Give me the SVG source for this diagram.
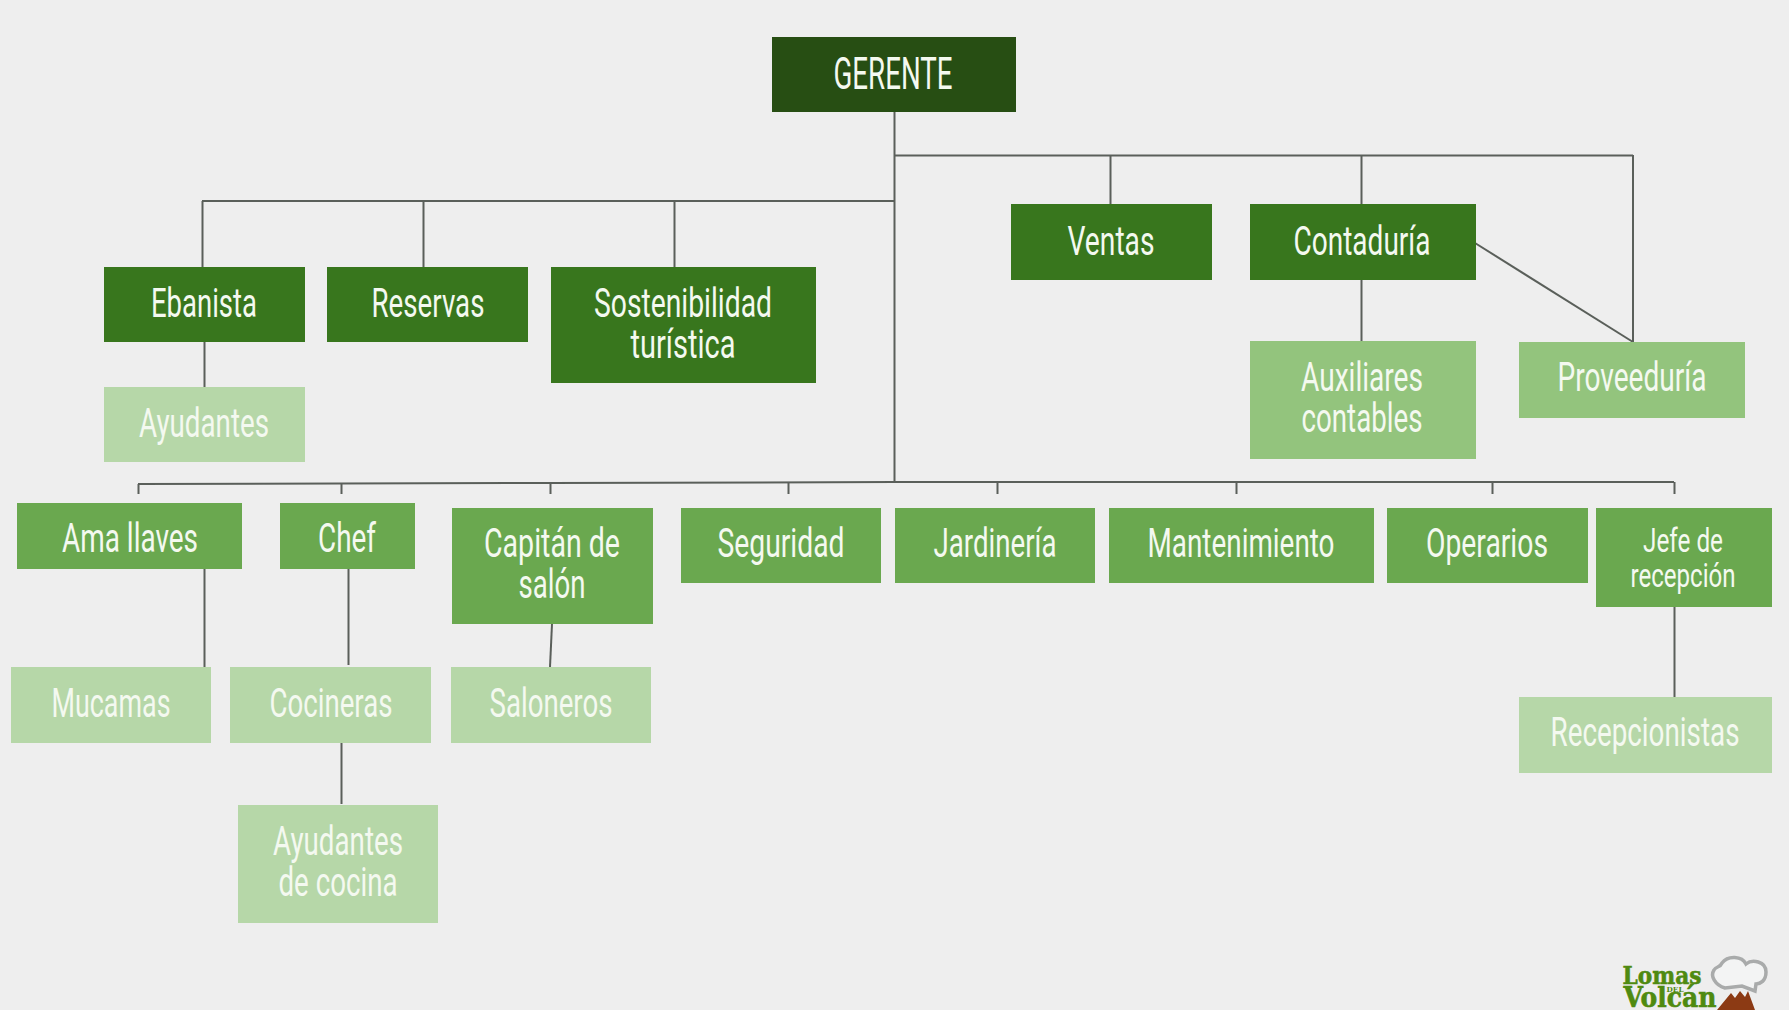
<svg xmlns="http://www.w3.org/2000/svg" width="1789" height="1010" viewBox="0 0 1789 1010">
<style>
.c{fill:none;stroke:#5a5f5a;stroke-width:2}
.a{fill:#274e13}.b{fill:#38761d}.d{fill:#6aa84f}.e{fill:#93c47d}.f{fill:#b6d7a8}
text{font-family:"Roboto","Liberation Sans",sans-serif;font-size:40px;fill:#f4f9f0;text-anchor:middle;font-weight:400}
.g{font-size:44px}
.s{font-size:33px}
.l{font-family:"DejaVu Serif","Liberation Serif",serif;font-weight:700;fill:#4f8a10;stroke:#4f8a10;stroke-width:.6;font-size:25px}
</style>
<rect width="1789" height="1010" fill="#eeeeee"/>
<g id="connectors" class="c">
<path d="M894.500 112V482"/>
<path d="M894 155.500H1633M1110.500 155V204M1361.500 155V204M1633 155V342"/>
<path d="M202 201H894M202.500 201V267M423.500 201V267M674.500 201V267"/>
<path d="M204.500 342V387"/>
<path d="M1361.500 280V341"/>
<path d="M1475 243L1633 342"/>
<path d="M138 484L550 483L894 482H1674"/>
<path d="M138.500 484V494M341.500 484V494M550.500 483V494M788.500 482V494M997.500 482V494M1236.500 482V494M1492.500 482V494M1674.500 482V494"/>
<path d="M204.500 569V667"/>
<path d="M348.500 569V665"/>
<path d="M552 624L550 667"/>
<path d="M341.500 743V804"/>
<path d="M1674.500 607V697"/>
</g>
<g id="gerente"><rect class="a" x="772" y="37" width="244" height="75"/><text class="g" x="893" y="89" textLength="119" lengthAdjust="spacingAndGlyphs">GERENTE</text></g>
<g id="ebanista"><rect class="b" x="104" y="267" width="201" height="75"/><text x="204" y="317" textLength="106" lengthAdjust="spacingAndGlyphs">Ebanista</text></g>
<g id="reservas"><rect class="b" x="327" y="267" width="201" height="75"/><text x="428" y="317" textLength="113" lengthAdjust="spacingAndGlyphs">Reservas</text></g>
<g id="sostenibilidad"><rect class="b" x="551" y="267" width="265" height="116"/><text x="683" y="317" textLength="178" lengthAdjust="spacingAndGlyphs">Sostenibilidad</text><text x="683" y="358" textLength="105" lengthAdjust="spacingAndGlyphs">turística</text></g>
<g id="ventas"><rect class="b" x="1011" y="204" width="201" height="76"/><text x="1111" y="255" textLength="87" lengthAdjust="spacingAndGlyphs">Ventas</text></g>
<g id="contaduria"><rect class="b" x="1250" y="204" width="226" height="76"/><text x="1362" y="255" textLength="137" lengthAdjust="spacingAndGlyphs">Contaduría</text></g>
<g id="ayudantes"><rect class="f" x="104" y="387" width="201" height="75"/><text x="204" y="437" textLength="130" lengthAdjust="spacingAndGlyphs">Ayudantes</text></g>
<g id="auxiliares"><rect class="e" x="1250" y="341" width="226" height="118"/><text x="1362" y="391" textLength="122" lengthAdjust="spacingAndGlyphs">Auxiliares</text><text x="1362" y="432" textLength="121" lengthAdjust="spacingAndGlyphs">contables</text></g>
<g id="proveeduria"><rect class="e" x="1519" y="342" width="226" height="76"/><text x="1632" y="391" textLength="149" lengthAdjust="spacingAndGlyphs">Proveeduría</text></g>
<g id="ama-llaves"><rect class="d" x="17" y="503" width="225" height="66"/><text x="130" y="552" textLength="136" lengthAdjust="spacingAndGlyphs">Ama llaves</text></g>
<g id="chef"><rect class="d" x="280" y="503" width="135" height="66"/><text x="347" y="552" textLength="58" lengthAdjust="spacingAndGlyphs">Chef</text></g>
<g id="capitan"><rect class="d" x="452" y="508" width="201" height="116"/><text x="552" y="557" textLength="136" lengthAdjust="spacingAndGlyphs">Capitán de</text><text x="552" y="598" textLength="67" lengthAdjust="spacingAndGlyphs">salón</text></g>
<g id="seguridad"><rect class="d" x="681" y="508" width="200" height="75"/><text x="781" y="557" textLength="127" lengthAdjust="spacingAndGlyphs">Seguridad</text></g>
<g id="jardineria"><rect class="d" x="895" y="508" width="200" height="75"/><text x="995" y="557" textLength="123" lengthAdjust="spacingAndGlyphs">Jardinería</text></g>
<g id="mantenimiento"><rect class="d" x="1109" y="508" width="265" height="75"/><text x="1241" y="557" textLength="187" lengthAdjust="spacingAndGlyphs">Mantenimiento</text></g>
<g id="operarios"><rect class="d" x="1387" y="508" width="201" height="75"/><text x="1487" y="557" textLength="122" lengthAdjust="spacingAndGlyphs">Operarios</text></g>
<g id="jefe"><rect class="d" x="1596" y="508" width="176" height="99"/><text class="s" x="1683" y="552" textLength="80" lengthAdjust="spacingAndGlyphs">Jefe de</text><text class="s" x="1683" y="587" textLength="105" lengthAdjust="spacingAndGlyphs">recepción</text></g>
<g id="mucamas"><rect class="f" x="11" y="667" width="200" height="76"/><text x="111" y="717" textLength="119" lengthAdjust="spacingAndGlyphs">Mucamas</text></g>
<g id="cocineras"><rect class="f" x="230" y="667" width="201" height="76"/><text x="331" y="717" textLength="123" lengthAdjust="spacingAndGlyphs">Cocineras</text></g>
<g id="saloneros"><rect class="f" x="451" y="667" width="200" height="76"/><text x="551" y="717" textLength="123" lengthAdjust="spacingAndGlyphs">Saloneros</text></g>
<g id="recepcionistas"><rect class="f" x="1519" y="697" width="253" height="76"/><text x="1645" y="746" textLength="189" lengthAdjust="spacingAndGlyphs">Recepcionistas</text></g>
<g id="ayudantes-cocina"><rect class="f" x="238" y="805" width="200" height="118"/><text x="338" y="855" textLength="130" lengthAdjust="spacingAndGlyphs">Ayudantes</text><text x="338" y="896" textLength="119" lengthAdjust="spacingAndGlyphs">de cocina</text></g>
<g id="logo">
<path d="M1722 963C1728 955 1742 956 1746 964C1752 959 1766 961 1766 972C1766 981 1760 984 1756 984L1755 991L1742 986L1725 988C1715 985 1710 976 1714 970C1716 966 1720 968 1722 963Z" fill="#f3f4f4" stroke="#a9abab" stroke-width="3.500"/>
<path d="M1717 1010L1731 993L1735 998L1740 991L1745 997L1748 991L1755 1010Z" fill="#8c3a14"/>
<text class="l" x="1662" y="984" textLength="79" lengthAdjust="spacingAndGlyphs">Lomas</text>
<text class="l" x="1675" y="992" textLength="17" lengthAdjust="spacingAndGlyphs" style="font-size:7px;stroke-width:0">DEL</text>
<text class="l" x="1670" y="1007" textLength="93" lengthAdjust="spacingAndGlyphs" style="font-size:27px">Volcán</text>
</g>
</svg>
